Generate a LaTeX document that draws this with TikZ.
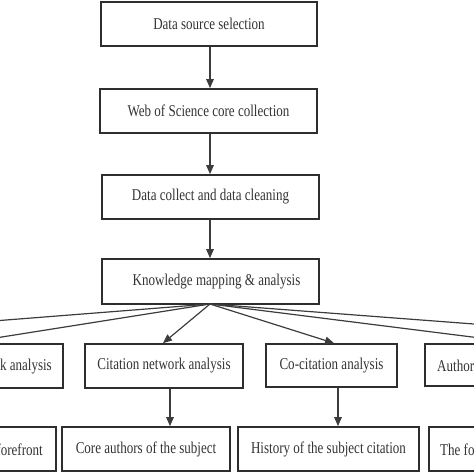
\documentclass[tikz,border=0pt]{standalone}
\usepackage{fontspec}
\setmainfont{Liberation Serif}[FakeStretch=0.79]
\usetikzlibrary{arrows.meta}
\definecolor{boxc}{HTML}{2e2e2e}
\definecolor{linec}{HTML}{3c3c3c}
\tikzset{
  box/.style={draw=boxc, line width=1.7pt, rectangle, inner sep=0pt, font=\fontsize{16.5}{18}\selectfont, text=black!80},
  conn/.style={draw=linec, line width=1.2pt, -{Triangle[length=9pt,width=7.5pt]}},
  lbl/.style={inner sep=0pt, font=\fontsize{16.5}{18}\selectfont, text=black!80}
}
\begin{document}
\begin{tikzpicture}[x=1pt,y=-1pt]
\useasboundingbox (0,0) rectangle (474,474);
\clip (0,0) rectangle (474,474);
% main column
\node[box, minimum width=216pt, minimum height=44pt] (a) at (209,24) {Data source selection};
\node[box, minimum width=217pt, minimum height=44pt] (b) at (208.5,111) {Web of Science core collection};
\node[box, minimum width=217pt, minimum height=44pt] (c) at (210.5,197) {Data collect and data cleaning};
\node[box, minimum width=217pt, minimum height=45pt] (d) at (210.5,281.5) {\hspace*{12pt}Knowledge mapping \& analysis};
\draw[conn] (a.south -| 210,0) -- (b.north -| 210,0);
\draw[conn] (b.south -| 210,0) -- (c.north -| 210,0);
\draw[conn] (c.south -| 210,0) -- (d.north -| 210,0);
% second row
\node[box, minimum width=200pt, minimum height=44pt] (l2) at (-37,366) {};
\node[lbl, anchor=east] (l2t) at (52,367) {k analysis};
\node[box, minimum width=158pt, minimum height=44pt] (cn) at (164,366) {Citation network analysis};
\node[box, minimum width=131pt, minimum height=43pt] (cc) at (331.5,365.5) {Co-citation analysis};
\node[box, minimum width=192pt, minimum height=42pt] (au) at (521,365) {};
\node[lbl, anchor=west] (aut) at (437,366) {Author};
% third row
\node[box, minimum width=200pt, minimum height=44pt] (l3) at (-44,449) {};
\node[lbl, anchor=east] (l3t) at (43,450) {forefront};
\node[box, minimum width=168pt, minimum height=44pt] (ca) at (146,449) {Core authors of the subject};
\node[box, minimum width=181pt, minimum height=44pt] (hs) at (328.5,449) {History of the subject citation};
\node[box, minimum width=200pt, minimum height=44pt] (tf) at (529,449) {};
\node[lbl, anchor=west] (tft) at (440,450) {The fo};
% fan connectors
\coordinate (src) at (210,304);
\coordinate (farL) at (-300,344);
\coordinate (farR) at (738,344);
\draw[conn] (src) -- (farL);
\draw[conn] (src) -- (l2.north);
\draw[conn] (src) -- (cn.north -| 163,0);
\draw[conn] (src) -- (cc.north -| 334,0);
\draw[conn] (src) -- (au.north);
\draw[conn] (src) -- (farR);
% down arrows
\draw[conn] (cn.south -| 170,0) -- (ca.north -| 170,0);
\draw[conn] (cc.south -| 338,0) -- (hs.north -| 338,0);
\end{tikzpicture}
\end{document}
